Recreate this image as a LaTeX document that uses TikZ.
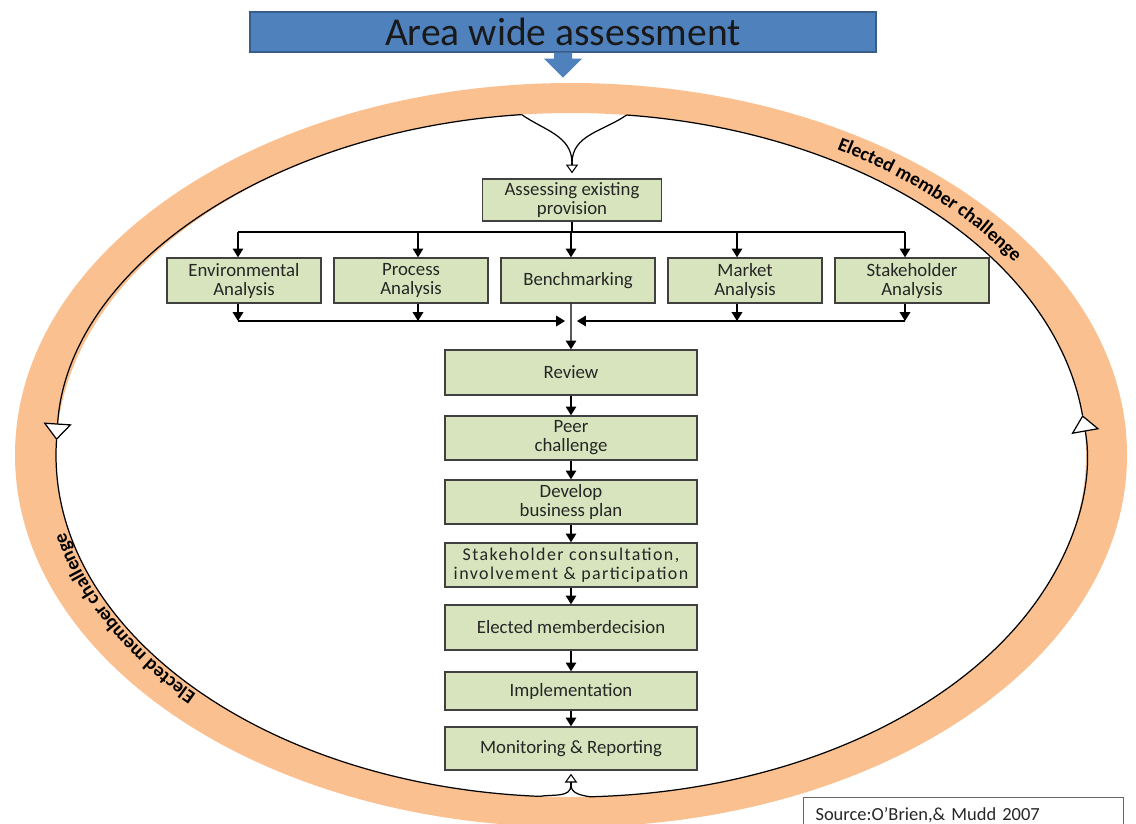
\documentclass[tikz,border=0pt]{standalone}
\usepackage{fontspec}
\setmainfont{Carlito}
\usetikzlibrary{arrows.meta,decorations.text}

\definecolor{ringorange}{RGB}{250,192,144}
\definecolor{boxgreen}{RGB}{215,228,189}
\definecolor{titleblue}{RGB}{79,129,189}
\definecolor{titleedge}{RGB}{56,93,138}
\definecolor{boxedge}{RGB}{64,64,64}

\newcommand{\ringfont}{\fontsize{11}{13}\selectfont\bfseries}

\begin{document}
\begin{tikzpicture}[x=0.2mm,y=0.2mm,
  stage/.style={draw=boxedge,line width=0.8pt,fill=boxgreen,align=center,
    font=\fontsize{10.7}{10.8}\selectfont,text=black!85,inner sep=1pt},
  wide/.style={stage,minimum width=50.4mm},
  narrow/.style={stage,minimum width=30.8mm,minimum height=9mm},
  flow/.style={-{Triangle[length=5pt,width=6pt]},line width=0.7pt},
  loophead/.style={-{Triangle[length=5pt,width=7pt,fill=white]},line width=0.6pt},
  bigloop/.style={-{Triangle[length=9.5pt,width=16pt,fill=white]},line width=0.7pt}]

	\useasboundingbox (0,0) rectangle (1136,-823);

	% orange loop
	\coordinate (ringc) at (571,-455);
	\fill[ringorange,even odd rule] (ringc) ellipse [x radius=556,y radius=372]
		(ringc) ellipse [x radius=515,y radius=342];
	\draw[bigloop] (ringc) ++(95.5:515 and 342) arc[start angle=95.5,end angle=177.5,x radius=515,y radius=342];
	\draw[line width=0.7pt] (ringc) ++(177.5:515 and 342) arc[start angle=177.5,end angle=266.5,x radius=515,y radius=342];
	\draw[bigloop] (ringc) ++(272.1:515 and 342) arc[start angle=272.1,end angle=366.7,x radius=515,y radius=342];
	\draw[line width=0.7pt] (ringc) ++(6.7:515 and 342) arc[start angle=6.7,end angle=83.8,x radius=515,y radius=342];

	\path[decorate,decoration={text along path,text align=center,text={|\ringfont|Elected member challenge}}]
		(ringc) ++(63:528 and 354) arc[start angle=63,end angle=29,x radius=528,y radius=354];
	\path[decorate,decoration={text along path,text align=center,text={|\ringfont|Elected member challenge}}]
		(ringc) ++(230:519 and 346) arc[start angle=230,end angle=185,x radius=519,y radius=346];

	% title
	\node[draw=titleedge,fill=titleblue,line width=0.8pt,minimum width=125.2mm,minimum height=8mm,
		font=\fontsize{22.5}{26}\selectfont,text=black!90] (title) at (563,-32) {Area wide assessment};
	\fill[titleblue] ([xshift=-1.8mm]title.south) -- ++(0,-6) -- ++(-10,0) -- ++(19,-19)
		-- ++(19,19) -- ++(-10,0) -- ++(0,6) -- cycle;

	% boxes
	\node[stage,minimum width=35.8mm,minimum height=8.4mm] (assess) at (572,-200) {Assessing existing\\provision};

	\node[narrow] (env) at (244,-280.5) {Environmental\\Analysis};
	\node[narrow] (proc) at (411,-280.5) {Process\\Analysis};
	\node[narrow] (bench) at (578,-280.5) {Benchmarking};
	\node[narrow] (market) at (745,-280.5) {Market\\Analysis};
	\node[narrow] (stake) at (912,-280.5) {Stakeholder\\Analysis};

	\node[wide,minimum height=9mm] (review) at (571,-372.5) {Review};
	\node[wide,minimum height=8.8mm] (peer) at (571,-438) {Peer\\challenge};
	\node[wide,minimum height=8.8mm] (develop) at (571,-502) {Develop\\business plan};
	\node[wide,minimum height=8.8mm,font=\fontsize{10.2}{10.8}\selectfont\addfontfeature{LetterSpace=8}] (consult) at (571,-565)
		{Stakeholder consultation,\\involvement \& participation};
	\node[wide,minimum height=9mm] (decision) at (571,-627.5) {Elected memberdecision};
	\node[wide,minimum height=7.6mm] (impl) at (571,-691) {Implementation};
	\node[wide,minimum height=8.6mm] (monitor) at (571,-748.5) {Monitoring \& Reporting};

	\node[draw=black!60,line width=0.6pt,anchor=north west,minimum width=64mm,minimum height=7mm,
		text width=59.2mm,inner xsep=2.4mm,align=left,font=\fontsize{10.5}{12}\selectfont,text=black!85]
		(source) at (803,-797) {Source:O'Brien,\& Mudd 2007};

	% connectors
	\coordinate (topbus) at (571,-232);
	\coordinate (join) at (571,-321);
	\foreach \n/\s in {env/-1.2mm,proc/1.4mm,bench/-1.4mm,market/-1.6mm,stake/-1.4mm}{
		\coordinate (\n-in) at ([xshift=\s]\n.north);
		\coordinate (\n-out) at ([xshift=\s]\n.south);
	}
	\draw[line width=0.7pt] (assess.south) -- (assess.south |- topbus);
	\draw[line width=0.7pt] (env-in |- topbus) -- (stake-in |- topbus);
	\foreach \n in {env,proc,bench,market,stake}
		\draw[flow] (\n-in |- topbus) -- (\n-in);
	\foreach \n in {env,proc,market,stake}
		\draw[flow] (\n-out) -- (\n-out |- join);
	\draw[flow] (env-out |- join) -- ([xshift=-1.2mm]join);
	\draw[flow] (stake-out |- join) -- ([xshift=1.2mm]join);
	\draw[flow] (bench-out) -- (review.north);

	\foreach \a/\b in {review/peer,peer/develop,develop/consult,consult/decision,decision/impl,impl/monitor}
		\draw[flow] (\a) -- (\b);

	% entry and exit of the loop
	\path (ringc) ++(95.5:515 and 342) coordinate (tl);
	\path (ringc) ++(83.8:515 and 342) coordinate (tr);
	\path (ringc) ++(266.5:515 and 342) coordinate (bl);
	\path (ringc) ++(272.1:515 and 342) coordinate (br);
	\coordinate (topmeet) at (572,-163);
	\coordinate (botmeet) at (571,-785);
	\draw[line width=0.7pt] (tl) to[out=-35,in=90] (topmeet);
	\draw[line width=0.7pt] (tr) to[out=-145,in=90] (topmeet);
	\draw[loophead,shorten >=1mm] (topmeet) -- (assess.north);
	\draw[line width=0.7pt] (bl) to[out=10,in=-90] (botmeet);
	\draw[line width=0.7pt] (br) to[out=170,in=-90] (botmeet);
	\draw[loophead,shorten >=0.6mm] (botmeet) -- (monitor.south);
\end{tikzpicture}
\end{document}
